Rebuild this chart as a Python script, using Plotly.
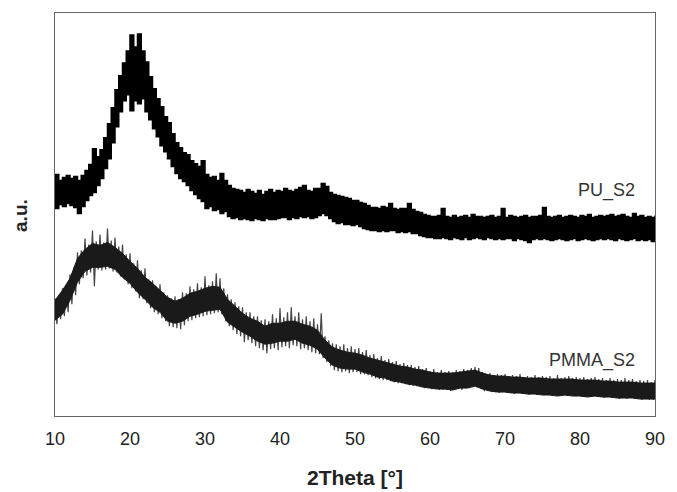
import plotly.graph_objects as go

# 2Theta sampling grid (degrees), 0.5 deg steps from 10 to 90
two_theta = [10 + 0.5 * i for i in range(161)]
# coarser 1 deg grid for the dense core of the PMMA trace
two_theta_core = [10 + i for i in range(81)]

# Intensities in arbitrary units (upper / lower edge of the noisy trace)
pu_upper = [
    242, 236, 239, 241, 238, 240, 236, 241, 246, 252,
    268, 260, 267, 279, 293, 309, 327, 341, 354, 366,
    382, 370, 383, 366, 355, 340, 328, 318, 310, 300,
    294, 283, 274, 269, 264, 262, 256, 253, 250, 256,
    242, 239, 240, 236, 243, 236, 231, 228, 227, 226,
    224, 227, 225, 223, 226, 222, 225, 227, 224, 226,
    225, 228, 226, 225, 227, 229, 231, 226, 225, 228,
    228, 233, 230, 224, 222, 221, 220, 219, 218, 216,
    216, 214, 213, 211, 209, 209, 208, 210, 209, 213,
    208, 207, 208, 208, 213, 207, 205, 204, 202, 201,
    200, 200, 201, 208, 200, 199, 201, 199, 200, 201,
    199, 202, 200, 200, 199, 200, 201, 199, 200, 208,
    199, 201, 200, 199, 200, 201, 199, 200, 200, 201,
    209, 200, 199, 200, 201, 199, 200, 201, 200, 199,
    201, 200, 202, 199, 200, 201, 200, 201, 202, 200,
    201, 202, 200, 199, 203, 200, 201, 199, 200, 199,
    201,
]
pu_lower = [
    208, 212, 210, 213, 211, 209, 203, 210, 216, 221,
    224, 231, 238, 248, 258, 274, 290, 305, 316, 322,
    306, 316, 313, 318, 305, 297, 288, 280, 271, 265,
    258, 250, 243, 238, 235, 231, 226, 222, 218, 215,
    208, 210, 206, 207, 203, 205, 200, 198, 199, 197,
    198, 197, 196, 198, 197, 196, 198, 197, 197, 198,
    199, 199, 197, 199, 198, 200, 199, 200, 198, 199,
    201, 203, 201, 198, 195, 193, 194, 192, 192, 191,
    192, 190, 188, 187, 186, 186, 185, 186, 185, 186,
    186, 184, 185, 184, 185, 183, 183, 181, 180, 179,
    179, 178, 178, 179, 178, 177, 179, 178, 177, 179,
    177, 178, 179, 178, 177, 179, 178, 177, 178, 177,
    178, 178, 176, 178, 177, 176, 174, 177, 178, 177,
    178, 177, 176, 177, 178, 177, 176, 177, 178, 176,
    177, 178, 177, 176, 177, 178, 177, 178, 177, 176,
    178, 177, 176, 177, 178, 176, 177, 176, 177, 175,
    176,
]
# PMMA: extreme spikes (upper / lower) on the 0.5 deg grid
pmma_upper = [
    118, 121, 128, 131, 142, 149, 164, 166, 178, 172,
    186, 175, 182, 174, 188, 176, 179, 170, 172, 162,
    163, 153, 156, 146, 148, 137, 136, 130, 132, 124,
    121, 118, 120, 117, 124, 123, 130, 127, 133, 129,
    140, 131, 135, 143, 138, 128, 122, 117, 114, 110,
    109, 104, 104, 100, 100, 96, 97, 95, 102, 98,
    108, 99, 104, 109, 100, 104, 97, 100, 95, 98,
    92, 103, 80, 76, 73, 72, 70, 72, 68, 70,
    67, 68, 64, 66, 61, 62, 58, 60, 56, 57,
    54, 55, 52, 53, 51, 51, 49, 50, 47, 48,
    45, 47, 44, 46, 44, 45, 44, 46, 45, 47,
    46, 48, 49, 48, 44, 42, 43, 41, 42, 41,
    42, 40, 41, 40, 42, 39, 40, 39, 41, 39,
    40, 39, 40, 38, 41, 38, 39, 40, 38, 39,
    38, 39, 37, 38, 39, 37, 38, 36, 38, 36,
    37, 36, 38, 36, 37, 35, 36, 35, 36, 34,
    36,
]
pmma_lower = [
    92, 97, 100, 104, 112, 121, 132, 138, 141, 144,
    130, 147, 146, 147, 148, 145, 144, 140, 137, 132,
    128, 125, 118, 117, 113, 108, 104, 102, 98, 95,
    90, 89, 88, 87, 91, 95, 96, 98, 99, 100,
    101, 102, 103, 104, 102, 95, 90, 86, 82, 80,
    74, 76, 73, 70, 68, 66, 63, 67, 68, 66,
    69, 70, 68, 71, 70, 67, 68, 66, 64, 63,
    62, 58, 54, 50, 46, 45, 44, 45, 43, 44,
    44, 42, 42, 41, 39, 38, 37, 36, 36, 35,
    34, 33, 33, 32, 31, 30, 30, 29, 28, 28,
    27, 27, 26, 26, 26, 25, 26, 27, 26, 28,
    28, 29, 29, 28, 25, 25, 24, 24, 23, 24,
    23, 23, 22, 23, 22, 22, 21, 22, 21, 22,
    21, 21, 20, 21, 20, 21, 20, 21, 20, 21,
    19, 20, 19, 20, 19, 19, 18, 19, 18, 18,
    17, 18, 17, 18, 17, 17, 16, 17, 16, 16,
    17,
]
# PMMA: dense dark core (upper / lower) on the 1 deg grid
pmma_core_upper = [
    116, 126, 138, 158, 167, 173, 171, 174, 169, 163,
    155, 148, 139, 133, 126, 119, 115, 118, 123, 125,
    128, 130, 129, 117, 110, 103, 98, 95, 90, 93,
    93, 95, 95, 92, 90, 86, 76, 69, 66, 64,
    63, 61, 58, 56, 54, 52, 50, 49, 47, 46,
    44, 43, 43, 43, 44, 45, 46, 43, 41, 40,
    40, 39, 39, 38, 38, 38, 37, 37, 37, 37,
    36, 36, 36, 35, 35, 34, 34, 34, 33, 33,
    33,
]
pmma_core_lower = [
    96, 102, 116, 134, 145, 149, 149, 150, 147, 139,
    133, 124, 117, 109, 104, 95, 93, 95, 100, 102,
    105, 106, 107, 94, 89, 84, 80, 75, 72, 73,
    75, 75, 77, 73, 71, 67, 58, 51, 48, 47,
    47, 44, 42, 39, 38, 35, 34, 32, 31, 29,
    28, 27, 27, 26, 28, 28, 30, 27, 25, 24,
    24, 23, 23, 22, 22, 21, 21, 20, 21, 20,
    20, 19, 20, 19, 19, 18, 18, 18, 17, 17,
    17,
]

x_ticks = [10, 20, 30, 40, 50, 60, 70, 80, 90]
series_labels = ["PU_S2", "PMMA_S2"]

FONT = "Liberation Sans"

# PMMA hairline noise: trace runs between its read upper and lower spikes
# (upper spike at each grid angle, lower spike a quarter step later)
pmma_x, pmma_y = [], []
for t, hi, lo in zip(two_theta, pmma_upper, pmma_lower):
    pmma_x += [t, t + 0.25]
    pmma_y += [hi, lo]

fig = go.Figure()

# PU_S2: thick stepped black band
fig.add_trace(go.Scatter(x=two_theta, y=pu_lower, mode="lines",
                         line=dict(color="black", width=1.5, shape="hv"),
                         hoverinfo="skip", showlegend=False))
fig.add_trace(go.Scatter(x=two_theta, y=pu_upper, mode="lines",
                         line=dict(color="black", width=1.5, shape="hv"),
                         fill="tonexty", fillcolor="black",
                         name=series_labels[0], showlegend=False))

# PMMA_S2: grey hairline noise + dark core
fig.add_trace(go.Scatter(x=pmma_x, y=pmma_y, mode="lines",
                         line=dict(color="#444444", width=1.2),
                         name=series_labels[1], showlegend=False))
fig.add_trace(go.Scatter(x=two_theta_core, y=pmma_core_lower, mode="lines",
                         line=dict(color="#1a1a1a", width=1),
                         hoverinfo="skip", showlegend=False))
fig.add_trace(go.Scatter(x=two_theta_core, y=pmma_core_upper, mode="lines",
                         line=dict(color="#1a1a1a", width=1),
                         fill="tonexty", fillcolor="#1a1a1a",
                         hoverinfo="skip", showlegend=False))

fig.add_annotation(x=87.6, y=226, text=series_labels[0], showarrow=False,
                   xanchor="right", yanchor="middle",
                   font=dict(family=FONT, size=18, color="#333333"))
fig.add_annotation(x=87.6, y=56, text=series_labels[1], showarrow=False,
                   xanchor="right", yanchor="middle",
                   font=dict(family=FONT, size=18, color="#333333"))

# axis titles
fig.add_annotation(xref="paper", yref="paper", x=0.5, y=-0.153,
                   text="<b>2Theta [°]</b>", showarrow=False,
                   xanchor="center", yanchor="middle",
                   font=dict(family=FONT, size=21, color="#222222"))
fig.add_annotation(xref="paper", yref="paper", x=-0.0576, y=0.4975,
                   text="<b>a.u.</b>", showarrow=False, textangle=-90,
                   xanchor="center", yanchor="middle",
                   font=dict(family=FONT, size=19, color="#222222"))

fig.update_layout(
    width=677, height=492, autosize=False,
    margin=dict(l=55, r=14, t=12, b=76),
    paper_bgcolor="white", plot_bgcolor="white",
    showlegend=False,
    font=dict(family=FONT),
)
fig.update_xaxes(range=[10, 90], tickvals=x_ticks, ticktext=[str(t) for t in x_ticks],
                 showgrid=False, zeroline=False, showline=True, mirror=True,
                 linecolor="#666666", linewidth=1.2,
                 ticks="outside", ticklen=6, tickcolor="rgba(0,0,0,0)",
                 tickfont=dict(family=FONT, size=18, color="#222222"))
fig.update_yaxes(range=[0, 404], showticklabels=False, ticks="",
                 showgrid=False, zeroline=False, showline=True, mirror=True,
                 linecolor="#666666", linewidth=1.2)

fig.write_html("out.html",
               config={"displayModeBar": False, "responsive": False},
               default_width="677px", default_height="492px",
               post_script="document.body.style.margin='0';document.body.style.overflow='hidden';")
